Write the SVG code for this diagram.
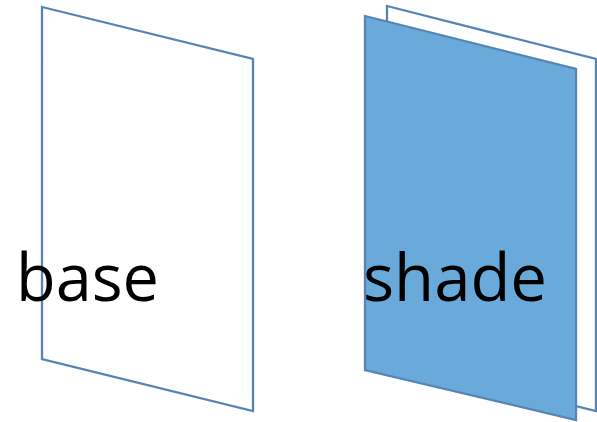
<svg xmlns="http://www.w3.org/2000/svg" width="597" height="422" viewBox="0 0 597 422">
<style>
.plate{stroke:#5585b5;stroke-width:2.3;stroke-linejoin:miter}
.white{fill:#ffffff}
.blue{fill:#6aaadb}
.lbl{font-family:"Open Sans","Noto Sans",sans-serif;font-size:66px;fill:#000000}
</style>
<rect width="597" height="422" fill="#ffffff"/>
<g id="base">
<polygon class="plate white" points="42,7 253,59 253,411 42,359"/>
<text class="lbl" x="16" y="301" textLength="143" lengthAdjust="spacingAndGlyphs">base</text>
</g>
<g id="shade">
<polygon class="plate white" points="387,6 596,59 596,411 387,359"/>
<polygon class="plate blue" points="365,16 576,69 576,420 365,370"/>
<text class="lbl" x="363" y="301" textLength="184" lengthAdjust="spacingAndGlyphs">shade</text>
</g>
<g id="connectors"></g>
</svg>
